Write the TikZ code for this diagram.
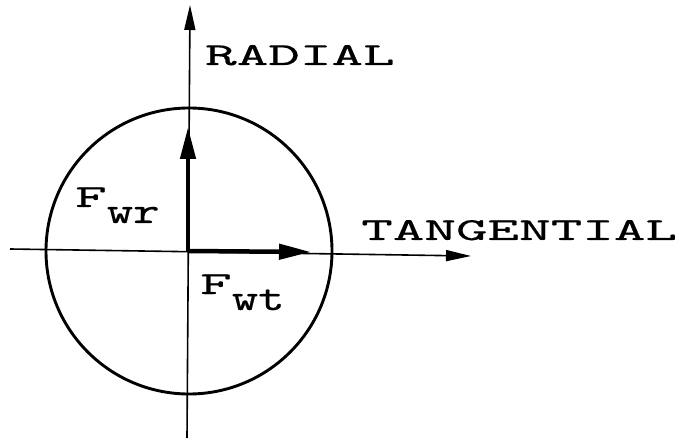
\documentclass[tikz,border=0pt]{standalone}
\usepackage{fontspec}
\usepackage{graphicx}
\newfontfamily\lblfont{lmmono10-regular.otf}[FakeBold=0.3]
\usetikzlibrary{arrows.meta}
\newcommand{\wide}[1]{\scalebox{1.88}[1]{#1}}
\newcommand{\subw}[1]{\raisebox{-16pt}{\fontsize{37}{37}\selectfont\scalebox{1.36}[1]{#1}}}
\begin{document}
\begin{tikzpicture}[x=1pt,y=-1pt,
  axis/.style={line width=1.6pt,-{Triangle[length=25pt,width=11pt]}},
  force/.style={line width=4.5pt,-{Triangle[length=32pt,width=15pt]}},
  rim/.style={line width=2.9pt},
  lbl/.style={inner sep=0pt,anchor=base west,font=\lblfont\fontsize{32}{32}\selectfont}]
\useasboundingbox (0,0) rectangle (686,441);
\fill[white] (0,0) rectangle (686,441);
% circle
\node[rim,draw,circle,minimum size=286pt,inner sep=0pt] (wheel) at (189,251) {};
% axes
\coordinate (vbot) at (187,438);
\coordinate (vtop) at (190,5);
\coordinate (hleft) at (10,249);
\coordinate (hright) at (471,256);
\draw[axis] (vbot) -- (vtop);
\draw[axis] (hleft) -- (hright);
% forces
\coordinate (o) at (188,251);
\coordinate (frtip) at (188,127);
\coordinate (fttip) at (311,252);
\draw[force] (o) -- (frtip);
\draw[force] (o) -- (fttip);
% labels
\node[lbl] (radial) at (205,65) {\wide{RADIAL}};
\node[lbl] (tang) at (361,240) {\wide{TANGENTIAL}};
\node[lbl] (fwr) at (75,207) {\wide{F}\subw{wr}};
\node[lbl] (fwt) at (200,294) {\wide{F}\subw{wt}};
\end{tikzpicture}
\end{document}
